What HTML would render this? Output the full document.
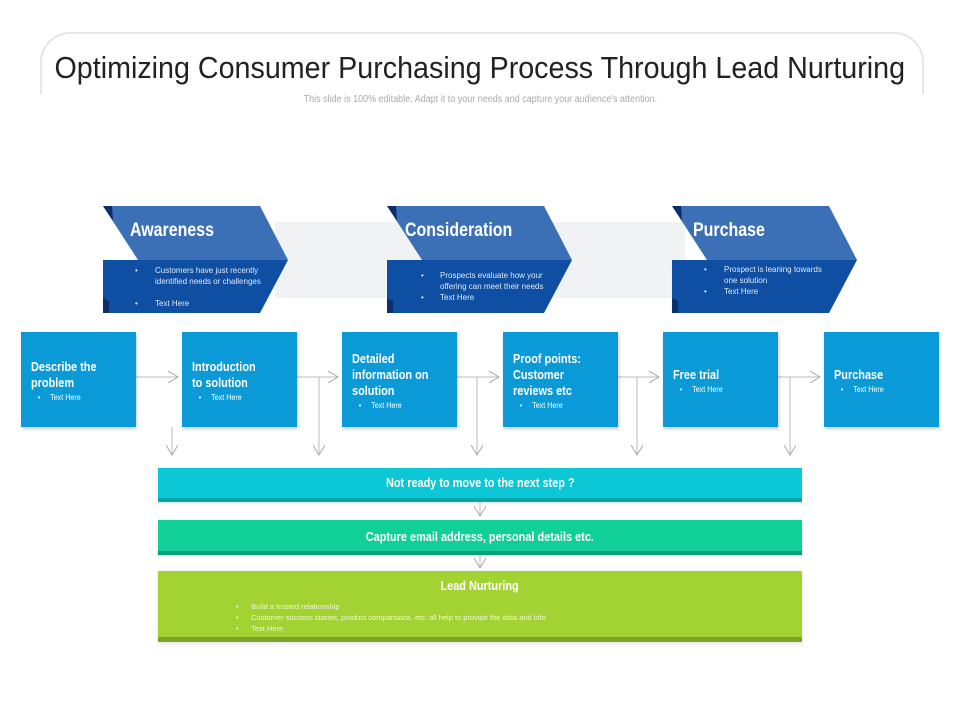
<!DOCTYPE html>
<html><head><style>
body{margin:0;width:960px;height:720px;background:#fff;position:relative;overflow:hidden;font-family:"Liberation Sans",sans-serif}
.a{position:absolute}
.n{display:inline-block;transform:scaleX(.84);transform-origin:left center;white-space:nowrap}
.nc{display:inline-block;transform:scaleX(.84);transform-origin:center center;white-space:nowrap}
.box{position:absolute;top:332px;width:115px;height:95px;background:#0a9ad8;color:#fff;box-shadow:1px 2px 3px rgba(0,0,0,.2)}
.box b{position:absolute;left:10px;font-size:13px;line-height:16px;font-weight:bold;transform:scaleX(.84);transform-origin:left top;white-space:nowrap}
.box span{display:block;font-weight:normal;font-size:8.5px;padding-left:8px;line-height:12px}
.ct{position:absolute;color:#dfe8f5;font-size:8px;line-height:11px}
.bar{position:absolute;left:158px;width:644px;color:#fff;text-align:center;font-weight:bold;font-size:13px;box-shadow:0 1px 3px rgba(0,0,0,.15)}
.hd{position:absolute;color:#fff;font-weight:bold;font-size:19px;transform:scaleX(.84);transform-origin:left top;white-space:nowrap}
</style></head><body>
<div class="a" style="left:40px;top:32px;width:880px;height:60px;border:2px solid #e6e6e6;border-bottom:none;border-radius:30px 30px 0 0"></div>
<div class="a" style="left:0;top:50px;width:960px;text-align:center;font-size:31px;color:#222"><span class="nc" style="transform:scaleX(.925)">Optimizing Consumer Purchasing Process Through Lead Nurturing</span></div>
<div class="a" style="left:0;top:94px;width:960px;text-align:center;font-size:10px;color:#aaa"><span class="nc" style="transform:scaleX(.9)">This slide is 100% editable. Adapt it to your needs and capture your audience's attention.</span></div>
<div class="a" style="left:275px;top:222px;width:410px;height:76px;background:#f1f2f4"></div>
<svg class="a" style="left:0;top:0" width="960" height="720">
<defs><g id="ch">
<polygon points="0,54 185,54 157,107 0,107" fill="#0e4ea3"/>
<polygon points="0,0 157,0 185,54 35,54" fill="#3c70b6"/>
<polygon points="0,0 9,0 10,15" fill="#0a2f6a"/>
<polygon points="0,92 6,95 6,107 0,107" fill="#0a2f6a"/>
</g>
<marker id="m" markerWidth="12" markerHeight="12" refX="10" refY="6" orient="auto" markerUnits="userSpaceOnUse"><path d="M0,0 L10,6 L0,12" fill="none" stroke="#aaa" stroke-width="1"/></marker></defs>
<use href="#ch" x="103" y="206"/><use href="#ch" x="387" y="206"/><use href="#ch" x="672" y="206"/>
<g stroke="#bbb" stroke-width="1" fill="none">
<line x1="136" y1="377" x2="178" y2="377" marker-end="url(#m)"/>
<line x1="297" y1="377" x2="338" y2="377" marker-end="url(#m)"/>
<line x1="457" y1="377" x2="499" y2="377" marker-end="url(#m)"/>
<line x1="618" y1="377" x2="659" y2="377" marker-end="url(#m)"/>
<line x1="778" y1="377" x2="820" y2="377" marker-end="url(#m)"/>
<line x1="172" y1="427" x2="172" y2="455" marker-end="url(#m)"/>
<line x1="319" y1="377" x2="319" y2="455" marker-end="url(#m)"/>
<line x1="477" y1="377" x2="477" y2="455" marker-end="url(#m)"/>
<line x1="637" y1="377" x2="637" y2="455" marker-end="url(#m)"/>
<line x1="790" y1="377" x2="790" y2="455" marker-end="url(#m)"/>
<line x1="480" y1="502" x2="480" y2="516" marker-end="url(#m)"/>
<line x1="480" y1="555" x2="480" y2="568" marker-end="url(#m)"/>
</g></svg>
<div class="hd" style="left:130px;top:220px">Awareness</div>
<div class="hd" style="left:405px;top:220px">Consideration</div>
<div class="hd" style="left:693px;top:220px">Purchase</div>
<div class="ct" style="left:135px;top:265px">•<span style="position:absolute;left:20px;width:120px">Customers have just recently identified needs or challenges</span></div>
<div class="ct" style="left:135px;top:298px">•<span style="position:absolute;left:20px;width:120px">Text Here</span></div>
<div class="ct" style="left:421px;top:270px">•<span style="position:absolute;left:19px;width:125px">Prospects evaluate how your offering can meet their needs</span></div>
<div class="ct" style="left:421px;top:292px">•<span style="position:absolute;left:19px;width:120px">Text Here</span></div>
<div class="ct" style="left:704px;top:264px">•<span style="position:absolute;left:20px;width:100px">Prospect is leaning towards one solution</span></div>
<div class="ct" style="left:704px;top:286px">•<span style="position:absolute;left:20px;width:100px">Text Here</span></div>
<div class="box" style="left:21px"><b style="top:27px">Describe the<br>problem<span>•&nbsp;&nbsp;&nbsp;&nbsp;&nbsp;Text Here</span></b></div>
<div class="box" style="left:182px"><b style="top:27px">Introduction<br>to solution<span>•&nbsp;&nbsp;&nbsp;&nbsp;&nbsp;Text Here</span></b></div>
<div class="box" style="left:342px"><b style="top:19px">Detailed<br>information on<br>solution<span>•&nbsp;&nbsp;&nbsp;&nbsp;&nbsp;Text Here</span></b></div>
<div class="box" style="left:503px"><b style="top:19px">Proof points:<br>Customer<br>reviews etc<span>•&nbsp;&nbsp;&nbsp;&nbsp;&nbsp;Text Here</span></b></div>
<div class="box" style="left:663px"><b style="top:35px">Free trial<span>•&nbsp;&nbsp;&nbsp;&nbsp;&nbsp;Text Here</span></b></div>
<div class="box" style="left:824px"><b style="top:35px">Purchase<span>•&nbsp;&nbsp;&nbsp;&nbsp;&nbsp;Text Here</span></b></div>
<div class="bar" style="top:468px;height:30px;line-height:30px;background:#0cc8d7;border-bottom:4px solid #0aa5a6"><span class="nc">Not ready to move to the next step ?</span></div>
<div class="bar" style="top:520px;height:31px;line-height:33px;background:#10cf97;border-bottom:4px solid #0c9e7a"><span class="nc">Capture email address, personal details etc.</span></div>
<div class="bar" style="top:571px;height:66px;background:#a3d233;border-bottom:5px solid #7ea52b"><div style="margin-top:7px"><span class="nc">Lead Nurturing</span></div>
<div style="position:absolute;left:78px;top:30px;text-align:left;font-weight:normal;font-size:7.5px;line-height:11px;color:#eef7d8">•&nbsp;&nbsp;&nbsp;&nbsp;&nbsp;&nbsp;Build a trusted relationship<br>•&nbsp;&nbsp;&nbsp;&nbsp;&nbsp;&nbsp;Customer success stories, product comparisons, etc. all help to provide the data and info<br>•&nbsp;&nbsp;&nbsp;&nbsp;&nbsp;&nbsp;Text Here</div></div>
</body></html>
